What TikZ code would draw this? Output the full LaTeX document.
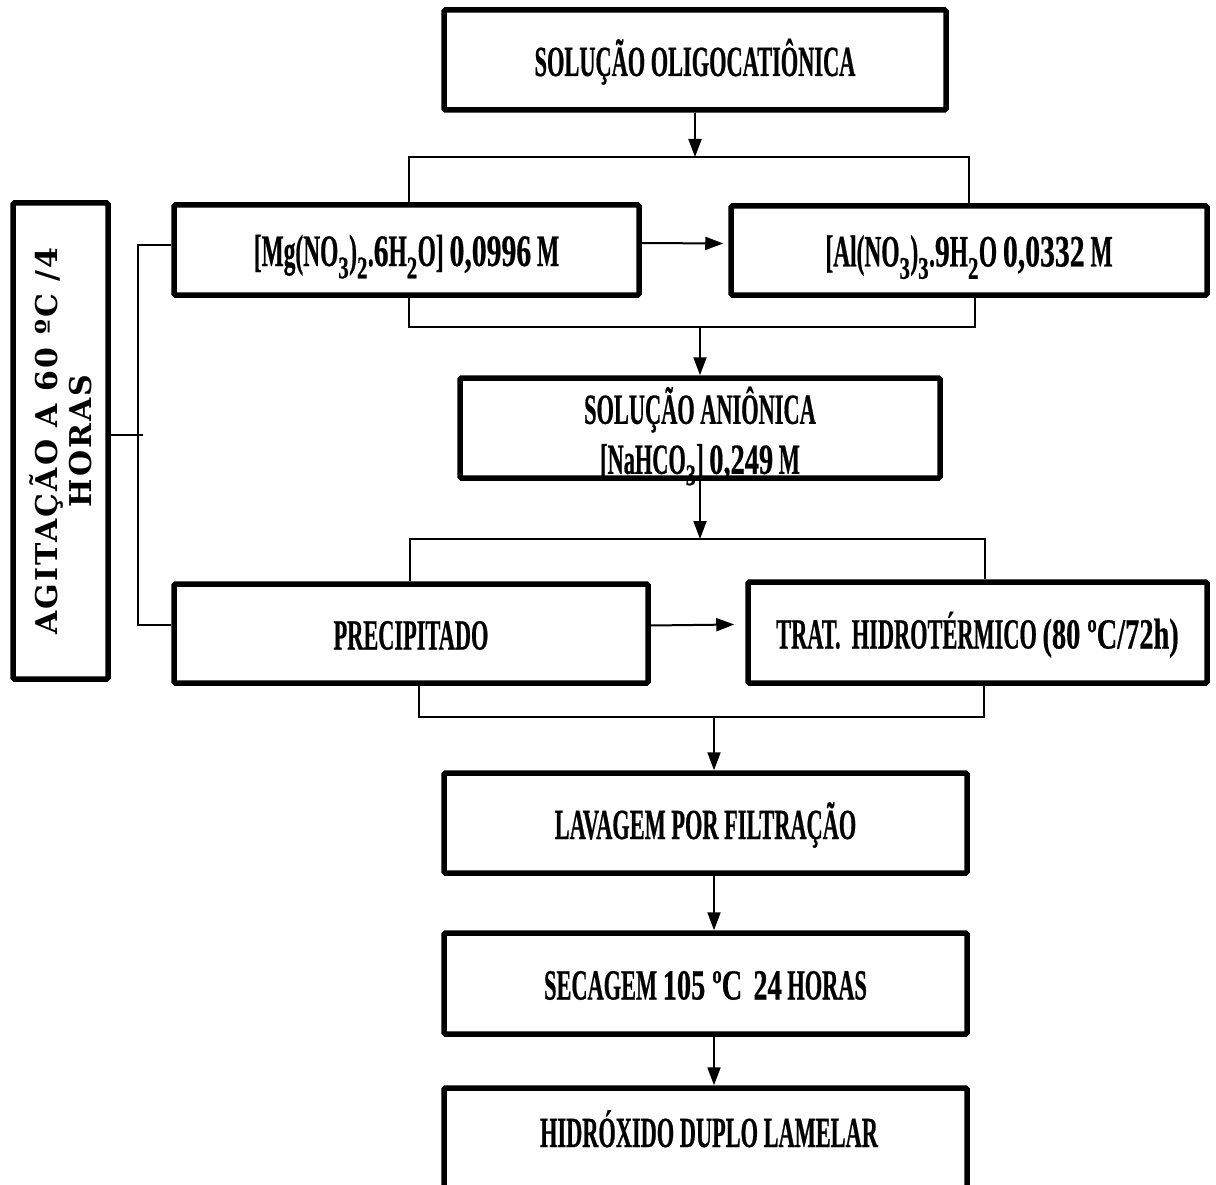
\documentclass[tikz,border=0pt]{standalone}
\usepackage{fontspec}
\usetikzlibrary{arrows.meta}
\newfontfamily\boxfont{Liberation Serif Bold}[FakeStretch=0.52,FakeBold=0.5]
\newfontfamily\numfont{Liberation Serif Bold}[FakeStretch=0.66,FakeBold=0.5]
\newfontfamily\agfont{DejaVu Serif}[LetterSpace=7]
\newcommand\nf[1]{{\numfont #1}}
\newcommand\sbs[1]{\textsubscript{\numfont #1}}
\begin{document}
\begin{tikzpicture}[x=1pt,y=-1pt,
  txt/.style={inner sep=0pt, align=center, text height=36pt, text depth=4pt,
    font={\boxfont\fontsize{43pt}{50pt}\selectfont}},
  box/.style={txt, draw, line width=5.5pt, rounded corners=1.5pt},
  bigtxt/.style={font={\boxfont\fontsize{45pt}{50pt}\selectfont}},
  conn/.style={line width=2.4pt},
  arr/.style={line width=2pt, -{Triangle[length=18pt,width=13pt]}}]
\useasboundingbox (0,0) rectangle (1216,1185);
% boxes
\node[box, minimum width=502pt, minimum height=100pt] (T) at (695,60) {SOLUÇÃO OLIGOCATIÔNICA};
\node[box, bigtxt, minimum width=465pt, minimum height=90pt] (M) at (406.5,250) {[Mg(NO\sbs{3})\sbs{2}.\nf{6}H\sbs{2}O] \nf{0,0996} M};
\node[box, bigtxt, minimum width=476pt, minimum height=89pt] (A) at (969,250.5) {[Al(NO\sbs{3})\sbs{3}.\nf{9}H\sbs{2}O \nf{0,0332} M};
\node[box, minimum width=480pt, minimum height=100pt, text height=, text depth=] (S) at (700,428) {};
\node[txt, text height=, text depth=] (St) at (700,436) {SOLUÇÃO ANIÔNICA\\{}[NaHCO\sbs{3}] \nf{0,249} M};
\node[box, minimum width=474pt, minimum height=99pt] (P) at (411,633.5) {PRECIPITADO};
\node[box, minimum width=459pt, minimum height=101pt] (R) at (977.5,632.5) {TRAT.~~HIDROTÉRMICO \nf{(80 ºC/72h)}};
\node[box, minimum width=523pt, minimum height=100pt] (L) at (705.5,823) {LAVAGEM POR FILTRAÇÃO};
\node[box, minimum width=523pt, minimum height=101pt] (Sec) at (705.5,983.5) {SECAGEM \nf{105 ºC}~~\nf{24} HORAS};
\node[box, minimum width=523pt, minimum height=107pt] (H) at (705.5,1141.5) {};
\node[txt] (Ht) at (709,1131) {HIDRÓXIDO DUPLO LAMELAR};
\node[box, minimum width=95pt, minimum height=476pt] (G) at (60.5,441) {};
\node[rotate=90, align=center, font={\agfont\bfseries\fontsize{30pt}{34pt}\selectfont}] (Gt) at (G.center) {AGITAÇÃO A 60 ºC /4\\HORAS};
% coordinates
\coordinate (b1l) at (409,157); \coordinate (b1r) at (969,157);
\coordinate (b2l) at (409,327); \coordinate (b2r) at (975,327);
\coordinate (b3l) at (410,539); \coordinate (b3r) at (985,539);
\coordinate (b4l) at (419,717); \coordinate (b4r) at (984,717);
\coordinate (b4m) at (714,717);
\coordinate (c1) at (138,245); \coordinate (c2) at (138,625); \coordinate (cm) at (143,435);
% connectors
\draw[arr] (T.south) -- (T.south |- b1l);
\draw[conn] (M.north -| b1l) -- (b1l) -- (b1r) -- (A.north -| b1r);
\draw[arr] ([yshift=7pt]M.east) -- ([yshift=7pt,xshift=-5pt]A.west);
\draw[conn] (M.south -| b2l) -- (b2l) -- (b2r) -- (A.south -| b2r);
\draw[arr] (S.north |- b2l) -- (S.north);
\draw[arr] (S.south) -- (S.south |- b3l);
\draw[conn] (P.north -| b3l) -- (b3l) -- (b3r) -- (R.north -| b3r);
\draw[arr] ([yshift=8pt]P.east) -- ([yshift=8pt,xshift=-11pt]R.west);
\draw[conn] (P.south -| b4l) -- (b4l) -- (b4r) -- (R.south -| b4r);
\draw[arr] (b4m) -- (b4m |- L.north);
\draw[arr] (L.south -| b4m) -- (Sec.north -| b4m);
\draw[arr] (Sec.south -| b4m) -- (H.north -| b4m);
\draw[conn] (M.west |- c1) -- (c1) -- (c2) -- (P.west |- c2);
\draw[conn] (G.east |- cm) -- (cm);
\end{tikzpicture}
\end{document}
